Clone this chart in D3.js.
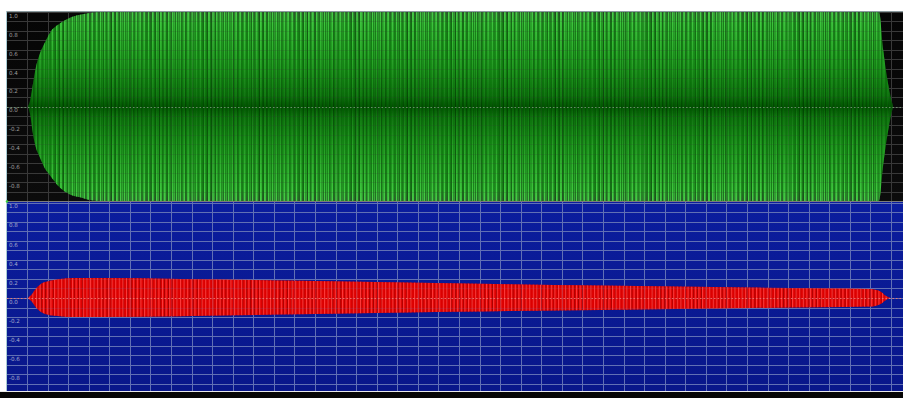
<!DOCTYPE html>
<html><head><meta charset="utf-8">
<script src="https://cdn.jsdelivr.net/npm/d3@7"></script>
<style>html,body{margin:0;padding:0;background:#fff;overflow:hidden}</style>
</head><body><svg id="chart" width="903" height="398"></svg>
<script>
// Time axis (seconds) and amplitude labels
const timeDomain = [0, 4.36];
const amplitudeLabels = [1.0, 0.8, 0.6, 0.4, 0.2, 0.0, -0.2, -0.4, -0.6, -0.8];

// Channel 1 (green) envelope: time (s), upper and lower peak amplitude
const greenTime  = [0.105, 0.115, 0.129, 0.144, 0.163, 0.188, 0.212, 0.261, 0.309, 0.358, 0.406, 0.455, 1.5, 2.5, 3.5, 4.242, 4.262, 4.286, 4.31];
const greenUpper = [0, 0.06, 0.24, 0.42, 0.56, 0.68, 0.78, 0.88, 0.94, 0.97, 0.99, 1.0, 1.0, 1.0, 1.0, 1.0, 0.6, 0.24, 0];
const greenLower = [0, -0.08, -0.29, -0.44, -0.54, -0.66, -0.73, -0.86, -0.93, -0.96, -0.99, -1.0, -1.0, -1.0, -1.0, -1.0, -0.62, -0.26, 0];

// Channel 2 (red) envelope
const redTime  = [0.105, 0.124, 0.144, 0.163, 0.212, 0.261, 0.333, 0.455, 0.844, 1.427, 2.156, 2.886, 3.615, 4.198, 4.247, 4.276, 4.296];
const redUpper = [0, 0.04, 0.1, 0.14, 0.18, 0.2, 0.21, 0.21, 0.2, 0.18, 0.155, 0.13, 0.11, 0.095, 0.07, 0.02, 0];
const redLower = [0, -0.04, -0.1, -0.14, -0.18, -0.19, -0.2, -0.2, -0.19, -0.17, -0.145, -0.125, -0.105, -0.09, -0.065, -0.02, 0];

const svg = d3.select('#chart');
const W = 903, H = 398;
const x = d3.scaleLinear().domain(timeDomain).range([6.4, 903.3]);

const panels = [
  { top: 12, bottom: 201, clipBottom: 201, y0: 12, y1: 201, bg: ['#060606', '#0c0c0c'], grid: '#3a3a3a', label: '#9c9c9c',
    time: greenTime, upper: greenUpper, lower: greenLower, kind: 'green' },
  { top: 202, bottom: 391, clipBottom: 391, y0: 202.5, y1: 393.5, bg: ['#0b1d9e', '#09178a'], grid: '#6170b4', label: '#a2a8cc',
    time: redTime, upper: redUpper, lower: redLower, kind: 'red' }
];

const defs = svg.append('defs');

// green: base gradient + stripe layers of slightly different pitch
const gGrad = defs.append('linearGradient').attr('id', 'gBase')
  .attr('gradientUnits', 'userSpaceOnUse').attr('x1', 0).attr('x2', 0).attr('y1', 12).attr('y2', 201);
[[0, '#2b5e2b'], [0.06, '#177e17'], [0.3, '#0f7c0f'], [0.44, '#086808'], [0.5, '#005400'], [0.56, '#086808'], [0.7, '#0f7c0f'], [0.94, '#177e17'], [1, '#2b5e2b']]
  .forEach(([o, c]) => gGrad.append('stop').attr('offset', o).attr('stop-color', c));
const gStripeGrad = defs.append('linearGradient').attr('id', 'gStripe')
  .attr('gradientUnits', 'userSpaceOnUse').attr('x1', 0).attr('x2', 0).attr('y1', 12).attr('y2', 201);
[[0, '#48d848', 0.9], [0.2, '#34bb34', 0.8], [0.45, '#1f961f', 0.4], [0.5, '#127412', 0.2], [0.55, '#1f961f', 0.4], [0.8, '#34bb34', 0.8], [1, '#48d848', 0.9]]
  .forEach(([o, c, a]) => gStripeGrad.append('stop').attr('offset', o).attr('stop-color', c).attr('stop-opacity', a));
function stripePattern(id, pitch, fill, w, op) {
  const p = defs.append('pattern').attr('id', id).attr('patternUnits', 'userSpaceOnUse')
    .attr('x', 0).attr('y', 0).attr('width', pitch).attr('height', H);
  p.append('rect').attr('x', 0).attr('y', 0).attr('width', w).attr('height', H).attr('fill', fill).attr('fill-opacity', op);
}
stripePattern('gS1', 4, 'url(#gStripe)', 1.2, 1);
stripePattern('gS2', 4.35, 'url(#gStripe)', 0.9, 0.8);
stripePattern('gS3', 5.1, 'url(#gStripe)', 0.8, 0.6);
stripePattern('gGap', 3.7, '#000', 0.9, 0.28);

// red: base + stripes
stripePattern('rS1', 3.6, '#ff3a3a', 1.1, 1);
stripePattern('rS2', 4.1, '#a80000', 1.0, 1);

const fmt = d => d3.format('.1f')(d).replace('\u2212', '-');

panels.forEach((p, i) => {
  const y = d3.scaleLinear().domain([1, -1]).range([p.y0, p.y1]);
  const clipId = 'clip' + i;
  defs.append('clipPath').attr('id', clipId).append('rect')
    .attr('x', 7).attr('y', p.top).attr('width', W - 7).attr('height', p.clipBottom - p.top);
  const bgId = 'bg' + i;
  const bg = defs.append('linearGradient').attr('id', bgId).attr('x1', 0).attr('x2', 0).attr('y1', 0).attr('y2', 1);
  bg.append('stop').attr('offset', 0).attr('stop-color', p.bg[0]);
  bg.append('stop').attr('offset', 1).attr('stop-color', p.bg[1]);

  const g = svg.append('g').attr('clip-path', `url(#${clipId})`);
  g.append('rect').attr('x', 7).attr('y', p.top).attr('width', W - 7).attr('height', p.bottom - p.top).attr('fill', `url(#${bgId})`);

  const drawGrid = (sel, op) => {
    sel.selectAll('.vx').data(x.ticks(44)).join('line').attr('class', 'vx')
      .attr('x1', d => Math.round(x(d)) + 0.5).attr('x2', d => Math.round(x(d)) + 0.5)
      .attr('y1', p.top).attr('y2', p.bottom).attr('stroke', p.grid).attr('stroke-opacity', op);
    sel.selectAll('.hy').data(y.ticks(20)).join('line').attr('class', 'hy')
      .attr('x1', 7).attr('x2', W).attr('y1', d => Math.round(y(d)) + 0.5).attr('y2', d => Math.round(y(d)) + 0.5)
      .attr('stroke', p.grid).attr('stroke-opacity', op);
  };
  drawGrid(g.append('g'), 1);

  const idx = d3.range(p.time.length);
  const area = d3.area().x(k => x(p.time[k])).y0(k => y(p.lower[k])).y1(k => y(p.upper[k])).curve(d3.curveMonotoneX);
  const layers = p.kind === 'green'
    ? ['url(#gBase)', 'url(#gGap)', 'url(#gS1)', 'url(#gS2)', 'url(#gS3)']
    : ['#dc0000', 'url(#rS2)', 'url(#rS1)'];
  layers.forEach(f => g.append('path').attr('d', area(idx)).attr('fill', f));

  // faint grid showing through the waveform
  drawGrid(g.append('g'), 0.16);

  // dotted zero line
  g.append('line').attr('x1', 7).attr('x2', W).attr('y1', Math.round(y(0)) + 0.5).attr('y2', Math.round(y(0)) + 0.5)
    .attr('stroke', p.kind === 'green' ? '#7aa07a' : '#ff7a6a').attr('stroke-width', 1)
    .attr('stroke-dasharray', '1.5,2').attr('stroke-opacity', 0.8);

  // amplitude labels
  g.selectAll('.lbl').data(amplitudeLabels).join('text').attr('class', 'lbl')
    .attr('x', 9).attr('y', d => y(d) + 5.8)
    .attr('font-family', 'DejaVu Sans, sans-serif').attr('font-size', 5.6)
    .attr('fill', p.label).text(fmt);
});

// frame
svg.append('line').attr('x1', 6.5).attr('x2', 6.5).attr('y1', 11.5).attr('y2', 391).attr('stroke', '#a9ccd4');
svg.append('line').attr('x1', 6.5).attr('x2', W).attr('y1', 11.5).attr('y2', 11.5).attr('stroke', '#8a9a9e');
svg.append('line').attr('x1', 6.5).attr('x2', W).attr('y1', 201.5).attr('y2', 201.5).attr('stroke', '#7c7c7c');
svg.append('line').attr('x1', 0).attr('x2', W).attr('y1', 391.5).attr('y2', 391.5).attr('stroke', '#e8e8e8');
svg.append('rect').attr('x', 0).attr('y', 392).attr('width', W).attr('height', H - 392).attr('fill', '#050505');
svg.append('circle').attr('cx', 7).attr('cy', 201.5).attr('r', 1.3).attr('fill', '#3ecf3e');
</script></body></html>
